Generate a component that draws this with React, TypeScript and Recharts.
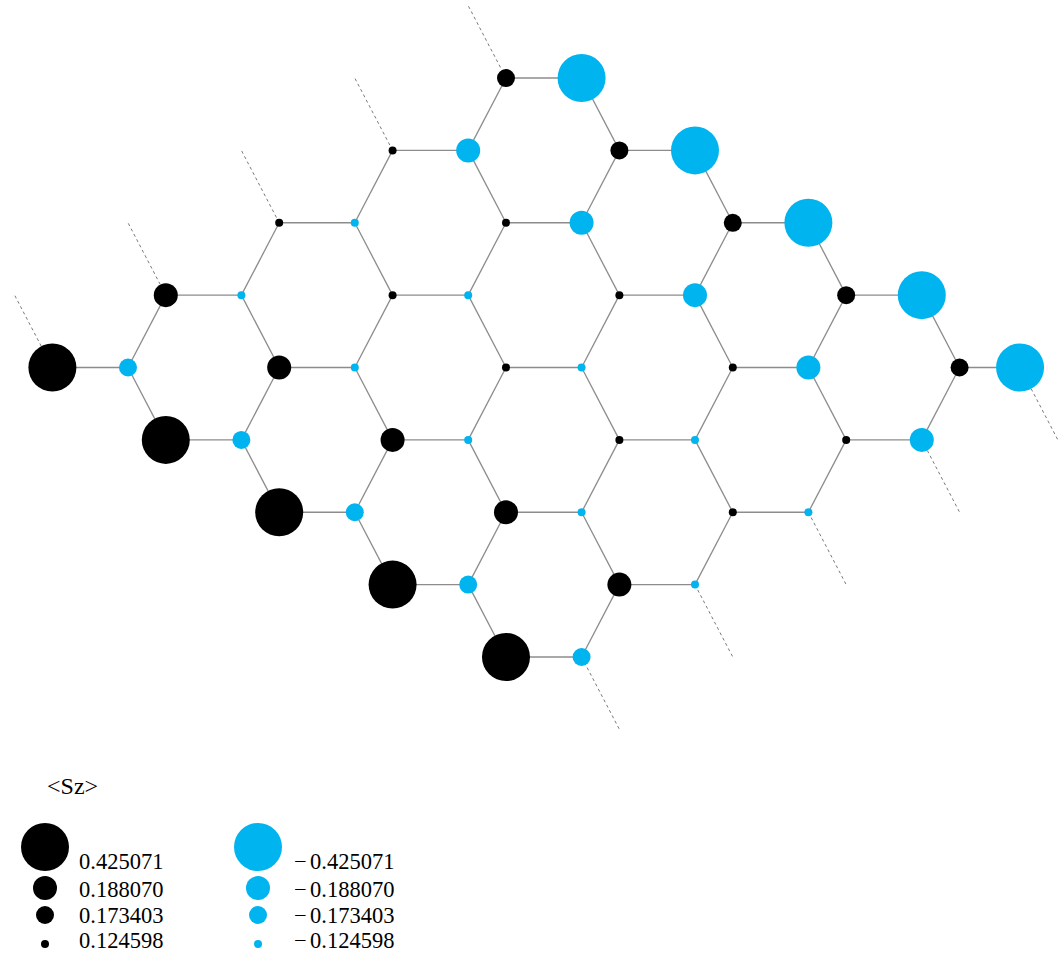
import React from 'react';
import { ScatterChart, Scatter, XAxis, YAxis } from 'recharts';

// <Sz> magnitudes used for the marker classes, and the radius drawn for each
const SZ_LEVELS = [0.425071, 0.18807, 0.173403, 0.124598];
const SZ_RADIUS = [24, 12, 9, 4];

const COLOR_UP = '#000000';
const COLOR_DOWN = '#00b4ef';

// Sublattice A (positive <Sz>). x in bond lengths, y = zigzag row index.
const SITES_A = [
  { x: 0, y: 0, sz: 0.173403 },
  { x: -1.5, y: 1, sz: 0.124598 },
  { x: 1.5, y: 1, sz: 0.173403 },
  { x: -3, y: 2, sz: 0.124598 },
  { x: 0, y: 2, sz: 0.124598 },
  { x: 3, y: 2, sz: 0.173403 },
  { x: -4.5, y: 3, sz: 0.18807 },
  { x: -1.5, y: 3, sz: 0.124598 },
  { x: 1.5, y: 3, sz: 0.124598 },
  { x: 4.5, y: 3, sz: 0.173403 },
  { x: -6, y: 4, sz: 0.425071 },
  { x: -3, y: 4, sz: 0.18807 },
  { x: 0, y: 4, sz: 0.124598 },
  { x: 3, y: 4, sz: 0.124598 },
  { x: 6, y: 4, sz: 0.173403 },
  { x: -4.5, y: 5, sz: 0.425071 },
  { x: -1.5, y: 5, sz: 0.18807 },
  { x: 1.5, y: 5, sz: 0.124598 },
  { x: 4.5, y: 5, sz: 0.124598 },
  { x: -3, y: 6, sz: 0.425071 },
  { x: 0, y: 6, sz: 0.18807 },
  { x: 3, y: 6, sz: 0.124598 },
  { x: -1.5, y: 7, sz: 0.425071 },
  { x: 1.5, y: 7, sz: 0.18807 },
  { x: 0, y: 8, sz: 0.425071 },
];

// Sublattice B (negative <Sz>)
const SITES_B = [
  { x: 1, y: 0, sz: -0.425071 },
  { x: -0.5, y: 1, sz: -0.18807 },
  { x: 2.5, y: 1, sz: -0.425071 },
  { x: -2, y: 2, sz: -0.124598 },
  { x: 1, y: 2, sz: -0.18807 },
  { x: 4, y: 2, sz: -0.425071 },
  { x: -3.5, y: 3, sz: -0.124598 },
  { x: -0.5, y: 3, sz: -0.124598 },
  { x: 2.5, y: 3, sz: -0.18807 },
  { x: 5.5, y: 3, sz: -0.425071 },
  { x: -5, y: 4, sz: -0.173403 },
  { x: -2, y: 4, sz: -0.124598 },
  { x: 1, y: 4, sz: -0.124598 },
  { x: 4, y: 4, sz: -0.18807 },
  { x: 6.8, y: 4, sz: -0.425071 },
  { x: -3.5, y: 5, sz: -0.173403 },
  { x: -0.5, y: 5, sz: -0.124598 },
  { x: 2.5, y: 5, sz: -0.124598 },
  { x: 5.5, y: 5, sz: -0.18807 },
  { x: -2, y: 6, sz: -0.173403 },
  { x: 1, y: 6, sz: -0.124598 },
  { x: 4, y: 6, sz: -0.124598 },
  { x: -0.5, y: 7, sz: -0.173403 },
  { x: 2.5, y: 7, sz: -0.124598 },
  { x: 1, y: 8, sz: -0.173403 },
];

type Site = { x: number; y: number; sz: number };
type Bond = { from: Site; to: { x: number; y: number }; open: boolean };

const near = (a: number, b: number) => Math.abs(a - b) < 0.35;

// Nearest-neighbour bonds of the flake. A site bonds right to B on the same row
// and to B half a bond left on the rows above and below. Missing upper-left
// neighbours of A and lower-right neighbours of B are drawn dashed.
function buildBonds(): Bond[] {
  const bonds: Bond[] = [];
  for (const a of SITES_A) {
    const right = SITES_B.find((b) => b.y === a.y && near(b.x - a.x, 1));
    if (right) bonds.push({ from: a, to: right, open: false });
    const up = SITES_B.find((b) => b.y === a.y - 1 && near(b.x - a.x, -0.5));
    if (up) bonds.push({ from: a, to: up, open: false });
    else bonds.push({ from: a, to: { x: a.x - 0.5, y: a.y - 1 }, open: true });
    const down = SITES_B.find((b) => b.y === a.y + 1 && near(b.x - a.x, -0.5));
    if (down) bonds.push({ from: a, to: down, open: false });
  }
  for (const b of SITES_B) {
    const down = SITES_A.find((a) => a.y === b.y + 1 && near(a.x - b.x, 0.5));
    if (!down) bonds.push({ from: b, to: { x: b.x + 0.5, y: b.y + 1 }, open: true });
  }
  return bonds;
}

const BONDS = buildBonds();

function radiusFor(sz: number) {
  const m = Math.abs(sz);
  let best = 0;
  SZ_LEVELS.forEach((v, i) => {
    if (Math.abs(v - m) < Math.abs(SZ_LEVELS[best] - m)) best = i;
  });
  return SZ_RADIUS[best];
}

const NoMarker = () => <g />;

const siteShape = (color: string) => (props: any) => {
  const { cx, cy, payload } = props;
  return <circle cx={cx} cy={cy} r={radiusFor(payload.sz)} fill={color} />;
};

function SzLegend() {
  const rowsY = [847, 888, 915, 944];
  const textY = [869, 897, 923, 948];
  return (
    <svg
      width={1059}
      height={953}
      style={{ position: 'absolute', left: 0, top: 0, pointerEvents: 'none' }}
      fontFamily="'Liberation Serif', 'Times New Roman', serif"
      fontSize={22.5}
    >
      <text x={47} y={794} fontSize={24}>
        {'<Sz>'}
      </text>
      {SZ_LEVELS.map((v, i) => (
        <g key={v}>
          <circle cx={45} cy={rowsY[i]} r={SZ_RADIUS[i]} fill={COLOR_UP} />
          <text x={79} y={textY[i]}>
            {v.toFixed(6)}
          </text>
          <circle cx={258} cy={rowsY[i]} r={SZ_RADIUS[i]} fill={COLOR_DOWN} />
          <text y={textY[i]}>
            <tspan x={294}>−</tspan>
            <tspan x={310}>{v.toFixed(6)}</tspan>
          </text>
        </g>
      ))}
    </svg>
  );
}

export default function App() {
  return (
    <div style={{ position: 'relative', width: 1059, height: 953, background: '#fff' }}>
      <style>{'body{margin:0}'}</style>
      <ScatterChart width={1059} height={953} margin={{ top: 0, right: 0, bottom: 0, left: 0 }}>
        <XAxis type="number" dataKey="x" domain={[-6.693, 7.315]} hide allowDataOverflow />
        <YAxis type="number" dataKey="y" domain={[-1.078, 12.09]} reversed hide allowDataOverflow />
        {BONDS.map((b, i) => (
          <Scatter
            key={`bond-${i}`}
            data={[
              { x: b.from.x, y: b.from.y },
              { x: b.to.x, y: b.to.y },
            ]}
            line={
              b.open
                ? { stroke: '#7a7a7a', strokeWidth: 1, strokeDasharray: '3 3' }
                : { stroke: '#8c8c8c', strokeWidth: 1.3 }
            }
            shape={NoMarker}
            legendType="none"
            isAnimationActive={false}
          />
        ))}
        <Scatter data={SITES_A} shape={siteShape(COLOR_UP)} isAnimationActive={false} />
        <Scatter data={SITES_B} shape={siteShape(COLOR_DOWN)} isAnimationActive={false} />
      </ScatterChart>
      <SzLegend />
    </div>
  );
}
